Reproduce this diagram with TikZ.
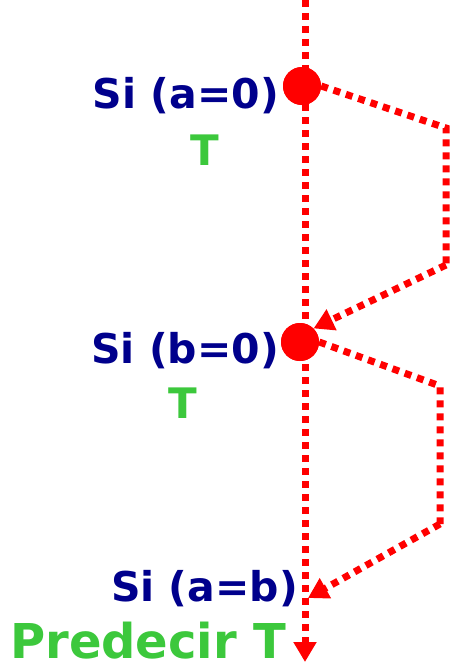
\documentclass[tikz,border=0pt]{standalone}
\usepackage{fontspec}
\setmainfont{DejaVu Sans}
\usetikzlibrary{arrows.meta}
\definecolor{sblue}{RGB}{0,0,140}
\definecolor{sgreen}{RGB}{60,200,60}
\definecolor{sred}{RGB}{255,0,0}
\tikzset{
  dotline/.style={draw=sred, line width=7pt, dash pattern=on 7pt off 6pt},
  dotarrow/.style={dotline, -{Triangle[length=20pt,width=22pt]}},
  bigdot/.style={circle, fill=sred, minimum size=38pt, inner sep=0pt},
  bluetxt/.style={text=sblue, font=\bfseries\fontsize{41}{48}\selectfont, inner sep=0pt},
  greentxt/.style={text=sgreen, font=\bfseries\fontsize{42}{48}\selectfont, inner sep=0pt},
}
\begin{document}
\begin{tikzpicture}[x=1pt,y=-1pt]
\useasboundingbox (0,0) rectangle (452,669);
\coordinate (top) at (305,0);
\coordinate (bot) at (305,662);
\coordinate (c1) at (446,128);
\coordinate (c2) at (446,265);
\coordinate (c3) at (440,386);
\coordinate (c4) at (440,524);
\coordinate (t3) at (308,598);
\node[bigdot] (d1) at (302,86) {};
\node[bigdot] (d2) at (300,342) {};
\draw[dotarrow] (top) -- (bot);
\draw[dotline] (d1.east) -- (c1) -- (c2);
\draw[dotarrow] (c2) -- (d2.north east);
\draw[dotline] (d2.east) -- (c3) -- (c4);
\draw[dotarrow] (c4) -- (t3);
\node[bigdot] at (d1) {};
\node[bigdot] at (d2) {};
\node[bluetxt, anchor=base east] (s1) at (279,108) {Si (a=0)};
\node[greentxt, anchor=base] (g1) at (205,165) {T};
\node[bluetxt, anchor=base east] (s2) at (279,363) {Si (b=0)};
\node[greentxt, anchor=base] (g2) at (183,418) {T};
\node[bluetxt, anchor=base east] (s3) at (298,601) {Si (a=b)};
\node[greentxt, anchor=base west, font=\bfseries\fontsize{48}{54}\selectfont] (p) at (10,658) {Predecir T};
\end{tikzpicture}
\end{document}
